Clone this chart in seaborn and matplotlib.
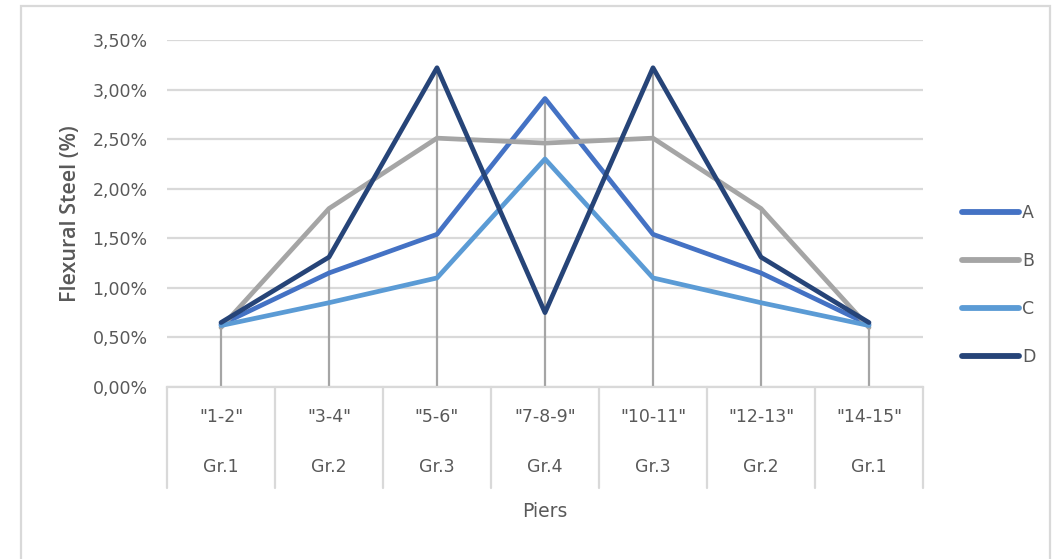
import numpy as np
import pandas as pd
import matplotlib
matplotlib.use("Agg")
import matplotlib.pyplot as plt
from matplotlib.patches import Rectangle
from matplotlib.ticker import FuncFormatter
import seaborn as sns

# data (values in %)
piers = ['"1-2"', '"3-4"', '"5-6"', '"7-8-9"', '"10-11"', '"12-13"', '"14-15"']
groups = ["Gr.1", "Gr.2", "Gr.3", "Gr.4", "Gr.3", "Gr.2", "Gr.1"]
series_a = [0.63, 1.15, 1.54, 2.91, 1.54, 1.15, 0.63]
series_b = [0.60, 1.80, 2.51, 2.46, 2.51, 1.80, 0.60]
series_c = [0.62, 0.85, 1.10, 2.30, 1.10, 0.85, 0.62]
series_d = [0.65, 1.31, 3.22, 0.75, 3.22, 1.31, 0.65]
series_names = ["A", "B", "C", "D"]
colors = ["#4472C4", "#A5A5A5", "#5B9BD5", "#264478"]

sns.set_style("white")
plt.rcParams["font.family"] = ["Liberation Sans Narrow", "DejaVu Sans"]

rows = []
for name, vals in zip(series_names, [series_a, series_b, series_c, series_d]):
    for i, v in enumerate(vals):
        rows.append({"pos": i, "val": v, "series": name})
df = pd.DataFrame(rows)

fig = plt.figure(figsize=(10.56, 5.59), dpi=100)
ax = fig.add_axes([167 / 1056, 1 - 387 / 559, 756 / 1056, 347 / 559])

grey_txt = "#595959"
grid_c = "#D9D9D9"

# drop lines from the highest point down to the axis
tops = df.groupby("pos")["val"].max()
ax.vlines(tops.index, 0, tops.values, color="#A5A5A5", lw=1.6, zorder=1)

sns.lineplot(data=df, x="pos", y="val", hue="series", palette=colors,
             lw=3.4, ax=ax, zorder=3, legend=True)

ax.set_xlim(-0.5, len(piers) - 0.5)
ax.set_ylim(0, 3.5)
ax.set_yticks(np.arange(0, 3.51, 0.5))
ax.yaxis.set_major_formatter(FuncFormatter(lambda v, p: f"{v:.2f}".replace(".", ",") + "%"))
ax.yaxis.grid(True, color=grid_c, lw=1.6)
ax.set_axisbelow(True)
for s in ["top", "right", "left"]:
    ax.spines[s].set_visible(False)
ax.spines["bottom"].set_color(grid_c)
ax.spines["bottom"].set_linewidth(1.6)
ax.tick_params(axis="y", length=0, pad=14, labelsize=12.5, labelcolor=grey_txt)
ax.set_xticks([])
ax.set_xlabel("")

# two level category axis
tr = ax.get_xaxis_transform()
for b in np.arange(-0.5, len(piers), 1.0):
    ax.plot([b, b], [0, -0.291], transform=tr, color=grid_c, lw=1.6, clip_on=False)
for i, (p, g) in enumerate(zip(piers, groups)):
    ax.text(i, -0.087, p, transform=tr, ha="center", va="center", fontsize=12.5, color=grey_txt)
    ax.text(i, -0.231, g, transform=tr, ha="center", va="center", fontsize=12.5, color=grey_txt)
ax.text(3, -0.36, "Piers", transform=tr, ha="center", va="center", fontsize=13.5, color=grey_txt)

ax.set_ylabel("Flexural Steel (%)", family=["Open Sans", "DejaVu Sans"], fontsize=15.5,
              fontweight="semibold", color=grey_txt)
ax.yaxis.set_label_coords(-0.114, 0.5)

handles, labels = ax.get_legend_handles_labels()
ax.legend_.remove()
for h in handles:
    h.set_linewidth(4.2)
    h.set_solid_capstyle("round")
fig.legend(handles, labels, loc="center left", bbox_to_anchor=(955 / 1056, 1 - 285 / 559),
           frameon=False, fontsize=12.5, labelcolor=grey_txt, handlelength=3.3,
           handletextpad=0.15, labelspacing=1.72, borderaxespad=0)

# outer chart frame
fig.add_artist(Rectangle((21 / 1056, -0.1), 1029 / 1056, 1.1 - 6 / 559, fill=False,
                         edgecolor=grid_c, lw=1.6, transform=fig.transFigure))

fig.savefig("out.png", dpi=100)
